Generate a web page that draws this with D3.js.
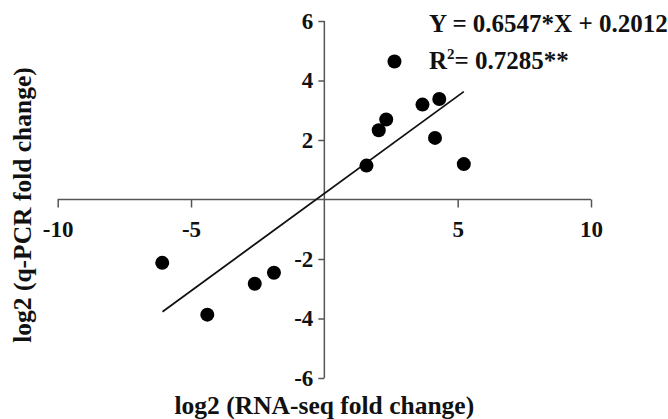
<!DOCTYPE html>
<html lang="en">
<head>
<meta charset="UTF-8">
<title>q-PCR vs RNA-seq</title>
<script src="https://cdn.jsdelivr.net/npm/d3@7"></script>
<style>
  body { margin: 0; background: #fff; }
  svg text { font-family: "Liberation Serif", "Times New Roman", serif; font-weight: bold; fill: #111; }
</style>
</head>
<body>
<div id="fig"></div>
<script>
// RNA-seq log2 fold change (x) vs q-PCR log2 fold change (y)
const rnaSeq = [1.58, 2.04, 2.32, 3.68, 4.31, 4.15, 5.23, 2.63, -6.08, -4.39, -2.61, -1.89]
const qPcr   = [1.14, 2.33, 2.69, 3.19, 3.38, 2.07, 1.19, 4.64, -2.13, -3.87, -2.83, -2.46]
const xTicks = [-10, -5, 5, 10]
const yTicks = [-6, -4, -2, 2, 4, 6]
const slope = 0.6547, intercept = 0.2012
const fitRange = [-6.07, 5.23]

const W = 668, H = 419
const svg = d3.select("#fig").append("svg")
    .attr("width", W).attr("height", H)

const x = d3.scaleLinear().domain([-10, 10]).range([57.7, 591])
const y = d3.scaleLinear().domain([-6, 6]).range([378, 21])

const axisColor = "#555"
const tickFont = 23
const plain = d => String(d)   // keep the plain hyphen like the original

// x axis through y = 0, ticks pointing down
const xAxis = svg.append("g")
    .attr("transform", `translate(0,${y(0)})`)
    .call(d3.axisBottom(x).tickValues(xTicks).tickFormat(plain)
        .tickSize(8).tickPadding(13).tickSizeOuter(0))
xAxis.select(".domain").attr("stroke", axisColor).attr("stroke-width", 1.5)
    .attr("d", `M${x(-10)},0H${x(10)}`)
xAxis.selectAll(".tick line").attr("stroke", axisColor).attr("stroke-width", 1.5)
xAxis.selectAll(".tick text").attr("font-size", tickFont).attr("fill", "#111")
    .attr("font-family", "Liberation Serif").attr("font-weight", "bold")

// y axis through x = 0, ticks pointing left
const yAxis = svg.append("g")
    .attr("transform", `translate(${x(0)},0)`)
    .call(d3.axisLeft(y).tickValues(yTicks).tickFormat(plain)
        .tickSize(6).tickPadding(5).tickSizeOuter(0))
yAxis.select(".domain").attr("stroke", axisColor).attr("stroke-width", 1.5)
    .attr("d", `M0,${y(-6)}V${y(6)}`)
yAxis.selectAll(".tick line").attr("stroke", axisColor).attr("stroke-width", 1.5)
yAxis.selectAll(".tick text").attr("font-size", tickFont).attr("fill", "#111")
    .attr("font-family", "Liberation Serif").attr("font-weight", "bold")

// regression line
svg.append("line")
    .attr("x1", x(fitRange[0])).attr("y1", y(slope * fitRange[0] + intercept))
    .attr("x2", x(fitRange[1])).attr("y2", y(slope * fitRange[1] + intercept))
    .attr("stroke", "#111").attr("stroke-width", 1.8)

// points
svg.selectAll(".pt")
    .data(rnaSeq.map((d, i) => [d, qPcr[i]]))
    .enter().append("circle")
    .attr("class", "pt")
    .attr("cx", d => x(d[0]))
    .attr("cy", d => y(d[1]))
    .attr("r", 7)
    .attr("fill", "#000")

// equation
svg.append("text").attr("x", 429).attr("y", 32)
    .attr("font-size", 25).text("Y = 0.6547*X + 0.2012")
const r2 = svg.append("text").attr("x", 429).attr("y", 69).attr("font-size", 25)
r2.append("tspan").text("R")
r2.append("tspan").attr("font-size", 15).attr("dy", -10).text("2")
r2.append("tspan").attr("dy", 10).text("= 0.7285**")

// axis titles
svg.append("text").attr("x", x(0)).attr("y", 414)
    .attr("text-anchor", "middle").attr("font-size", 25.5)
    .text("log2 (RNA-seq fold change)")
svg.append("text")
    .attr("transform", `translate(31,205) rotate(-90)`)
    .attr("text-anchor", "middle").attr("font-size", 25.5)
    .text("log2 (q-PCR fold change)")
</script>
</body>
</html>
